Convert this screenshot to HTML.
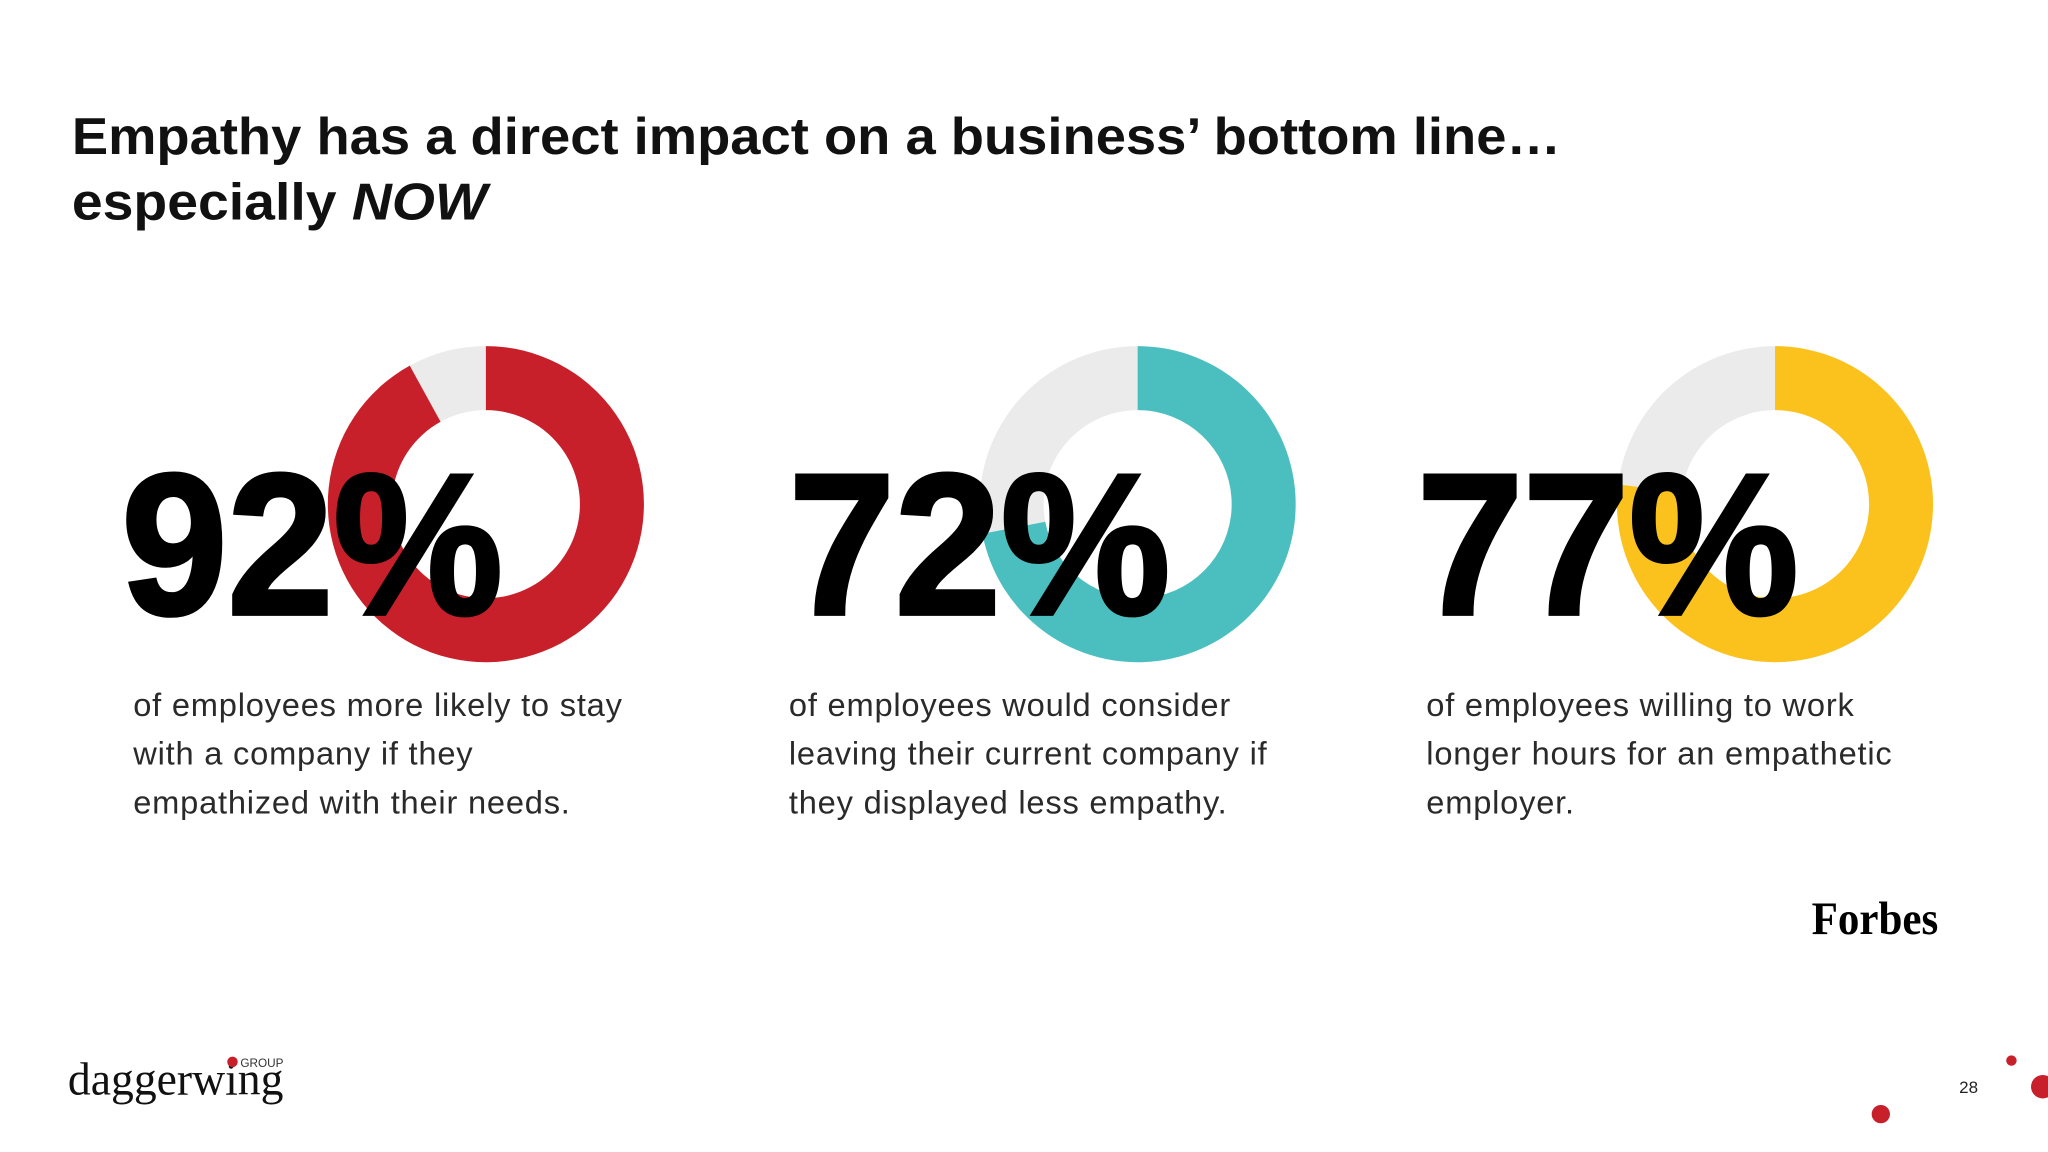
<!DOCTYPE html>
<html><head><meta charset="utf-8"><style>
html,body{margin:0;padding:0;background:#fff;width:2048px;height:1152px;overflow:hidden}
svg{display:block}
.t{font-family:"Liberation Sans",sans-serif;font-weight:bold;fill:#111}
.d{font-family:"Liberation Sans",sans-serif;font-size:25px;letter-spacing:0.6px;fill:#2a2a2a}
.big{font-family:"Liberation Sans",sans-serif;font-weight:900;font-size:154px;fill:#000;stroke:#000;stroke-width:3}
</style></head><body>
<svg id="s" width="2048" height="1152" viewBox="0 0 1568 882">
<text class="t" x="55" y="118" font-size="40" textLength="1140" lengthAdjust="spacingAndGlyphs">Empathy has a direct impact on a business’ bottom line…</text>
<text class="t" x="55" y="168" font-size="40" textLength="318" lengthAdjust="spacingAndGlyphs">especially <tspan font-style="italic">NOW</tspan></text>
<g id="donuts"></g>
<g id="labels"></g>
<text x="1387" y="715" font-family="Liberation Serif,serif" font-weight="bold" font-size="36" textLength="97" lengthAdjust="spacingAndGlyphs" fill="#000">Forbes</text>
<g>
<text x="52" y="838" font-family="Liberation Serif,serif" font-size="36" textLength="165" lengthAdjust="spacingAndGlyphs" fill="#111">daggerwing</text>
<circle cx="178" cy="813" r="4" fill="#C8202A"/>
<text x="184" y="817" font-family="Liberation Sans,sans-serif" font-size="9" fill="#333">GROUP</text>
</g>
<text x="1500" y="837" font-family="Liberation Sans,sans-serif" font-size="13" fill="#222">28</text>
<circle cx="1540" cy="812" r="4" fill="#C8202A"/>
<circle cx="1564" cy="832" r="9" fill="#C8202A"/>
<circle cx="1440" cy="853" r="7" fill="#C8202A"/>
</svg>
<script>
const categories = ["stay", "leave", "longer-hours"];
const values = [92, 72, 77];
const valueLabels = ["92%", "72%", "77%"];
const colors = ["#C8202A", "#4BBFBF", "#FBC21E"];
const descriptions = [
 ["of employees more likely to stay","with a company if they","empathized with their needs."],
 ["of employees would consider","leaving their current company if","they displayed less empathy."],
 ["of employees willing to work","longer hours for an empathetic","employer."]
];
const NS = "http://www.w3.org/2000/svg";
const centersX = [372, 871, 1359], cy = 386, R = 121, r = 72;
const numX = [93, 604, 1085], descX = [102, 604, 1092];
function angle(v){ return v/100*2*Math.PI; }
function pt(cx,rad,a){ return [cx+rad*Math.sin(a), cy-rad*Math.cos(a)]; }
function arc(cx,a0,a1){
  const large = (a1-a0) > Math.PI ? 1 : 0;
  const [x0,y0]=pt(cx,R,a0),[x1,y1]=pt(cx,R,a1),[x2,y2]=pt(cx,r,a1),[x3,y3]=pt(cx,r,a0);
  return `M${x0} ${y0}A${R} ${R} 0 ${large} 1 ${x1} ${y1}L${x2} ${y2}A${r} ${r} 0 ${large} 0 ${x3} ${y3}Z`;
}
const dg = document.getElementById('donuts'), lg = document.getElementById('labels');
values.forEach((v,i)=>{
  const cx = centersX[i];
  const bg = document.createElementNS(NS,'path');
  bg.setAttribute('d', arc(cx, angle(v), 2*Math.PI-0.0001));
  bg.setAttribute('fill', '#EBEBEB');
  
  
  dg.appendChild(bg);
  const p = document.createElementNS(NS,'path');
  p.setAttribute('d', arc(cx, 0, angle(v)));
  p.setAttribute('fill', colors[i]);
  
  
  dg.appendChild(p);
  const t = document.createElementNS(NS,'text');
  t.setAttribute('class','big'); t.setAttribute('x', numX[i]); t.setAttribute('y', 470);
  t.setAttribute('textLength', 292); t.setAttribute('lengthAdjust','spacingAndGlyphs');
  t.textContent = valueLabels[i];
  
  
  lg.appendChild(t);
  descriptions[i].forEach((line,j)=>{
    const d = document.createElementNS(NS,'text');
    d.setAttribute('class','d'); d.setAttribute('x', descX[i]); d.setAttribute('y', 548 + j*37.5);
    d.textContent = line;
    
    
    lg.appendChild(d);
  });
});
</script>
</body></html>
